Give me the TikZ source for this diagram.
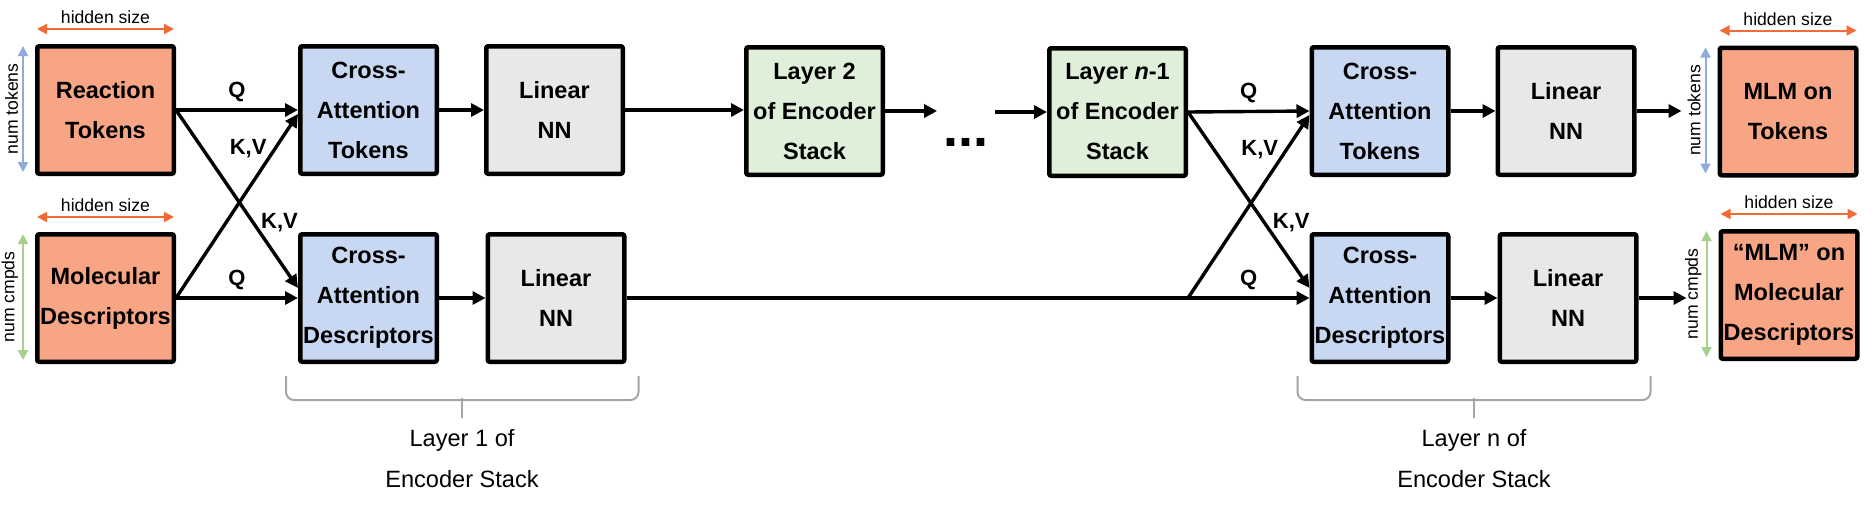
\documentclass[tikz,border=0pt]{standalone}
\usepackage{fontspec}
\setmainfont{Liberation Sans}
\usetikzlibrary{arrows.meta}
\definecolor{salmon}{HTML}{F8A586}
\definecolor{crossblue}{HTML}{C9D8F2}
\definecolor{lingray}{HTML}{E8E8E8}
\definecolor{layergreen}{HTML}{E0EFDA}
\definecolor{hidorange}{HTML}{F26A36}
\definecolor{tokblue}{HTML}{8FAADC}
\definecolor{cmpdgreen}{HTML}{A8D08D}
\definecolor{bracketgray}{HTML}{A5A5A5}
\tikzstyle{block}=[draw, line width=2.25pt, rounded corners=1pt, minimum width=68.25pt, minimum height=63.75pt, inner sep=0pt, align=center, font=\fontsize{11.75}{20}\selectfont\bfseries]
\tikzstyle{inout}=[block, fill=salmon]
\tikzstyle{cross}=[block, fill=crossblue]
\tikzstyle{linear}=[block, fill=lingray]
\tikzstyle{layer}=[block, fill=layergreen]
\tikzstyle{flow}=[line width=1.7pt, -{Triangle[length=6.5pt,width=6.5pt]}]
\tikzstyle{qkv}=[font=\fontsize{11}{13}\selectfont\bfseries]
\tikzstyle{dimarrow}=[line width=1pt, {Triangle[length=5pt,width=5pt]}-{Triangle[length=5pt,width=5pt]}]
\tikzstyle{dimlabel}=[font=\fontsize{8.8}{10}\selectfont, inner sep=2pt]
\tikzstyle{bracket}=[draw=bracketgray, line width=1pt, rounded corners=4pt]
\tikzstyle{stack}=[align=center, inner sep=0pt, font=\fontsize{11.8}{20.5}\selectfont]

\begin{document}
\begin{tikzpicture}[x=0.5pt, y=-0.5pt]
                    \useasboundingbox (0,0) rectangle (1875,505);
                    % inputs
                    \node[inout] (rt) at (105.5,110) {Reaction\\Tokens};
                    \node[inout] (md) at (105.5,298) {Molecular\\Descriptors};
                    % layer 1
                    \node[cross] (cat1) at (368.5,110) {Cross-\\Attention\\Tokens};
                    \node[cross] (cad1) at (368.5,298) {Cross-\\Attention\\Descriptors};
                    \node[linear] (lint1) at (554.5,110) {Linear\\NN};
                    \node[linear] (lind1) at (556,298) {Linear\\NN};
                    % middle layers
                    \node[layer] (l2) at (814.5,111) {Layer 2\\of Encoder\\Stack};
                    \node[font=\fontsize{27}{30}\selectfont\bfseries, inner sep=3pt] (dots) at (966,142) {...};
                    \node[layer] (ln1) at (1117.5,112) {Layer \textit{n}-1\\of Encoder\\Stack};
                    % layer n
                    \node[cross] (cat2) at (1380,111) {Cross-\\Attention\\Tokens};
                    \node[cross] (cad2) at (1380,298) {Cross-\\Attention\\Descriptors};
                    \node[linear] (lint2) at (1566,111) {Linear\\NN};
                    \node[linear] (lind2) at (1568,298) {Linear\\NN};
                    % outputs
                    \node[inout] (mlmt) at (1788,111.5) {MLM on\\Tokens};
                    \node[inout] (mlmd) at (1789,295) {“MLM” on\\Molecular\\Descriptors};

                    \draw[flow] (rt.east) -- node[qkv, above] {Q} (cat1.west);
                    \draw[flow] (md.east) -- node[qkv, pos=0.81, left] {K,V} ([yshift=-2pt]cat1.west);
                    \draw[flow] (rt.east) -- node[qkv, pos=0.63, right] {K,V} ([yshift=5pt]cad1.west);
                    \draw[flow] (md.east) -- node[qkv, above] {Q} (cad1.west);
                    \draw[flow] (cat1) -- (lint1);
                    \draw[flow] (cad1) -- (lind1);
                    \draw[flow] (lint1.east) -- (lint1.east -| l2.west);
                    \draw[flow] (l2.east) -- (l2.east -| dots.west);
                    \draw[flow] (dots.east |- ln1.west) -- (ln1.west);
                    \draw[line width=1.7pt] (lind1.east) -- (lind1.east -| ln1.east) coordinate (split);
                    \draw[flow] (ln1.east) -- node[qkv, above] {Q} (cat2.west);
                    \draw[flow] (split) -- node[qkv, pos=0.81, left] {K,V} ([yshift=-2pt]cat2.west);
                    \draw[flow] (ln1.east) -- node[qkv, pos=0.63, right] {K,V} ([yshift=5pt]cad2.west);
                    \draw[flow] (split) -- node[qkv, above] {Q} (cad2.west);
                    \draw[flow] (cat2) -- (lint2);
                    \draw[flow] (cad2) -- (lind2);
                    \draw[flow] (lint2.east) -- ([xshift=-18pt]mlmt.west |- lint2.east);
                    \draw[flow] (lind2.east) -- ([xshift=-16pt]mlmd.west |- lind2.east);

                    % sizes
                    \foreach \b/\c/\t in {rt/tokblue/num tokens, md/cmpdgreen/num cmpds, mlmt/tokblue/num tokens, mlmd/cmpdgreen/num cmpds} {
                        \draw[dimarrow, hidorange] ([xshift=1pt,yshift=7.5pt]\b.north west) -- node[dimlabel, black, above] {hidden size} ([xshift=-1pt,yshift=7.5pt]\b.north east);
                        \draw[dimarrow, \c] ([xshift=-6pt,yshift=-1pt]\b.north west) -- node[dimlabel, black, rotate=90, anchor=south] {\t} ([xshift=-6pt,yshift=2pt]\b.south west);
                    }

                    % encoder layers
                    \draw[bracket] ([xshift=-6pt,yshift=-6pt]cad1.south west) |- ([xshift=6pt,yshift=-18pt]lind1.south east) -- ([xshift=6pt,yshift=-6pt]lind1.south east);
                    \draw[bracket] (462,398) -- (462,418);
                    \node[stack] (stack1) at (462,459) {Layer 1 of\\Encoder Stack};
                    \draw[bracket] ([xshift=-6pt,yshift=-6pt]cad2.south west) |- ([xshift=6pt,yshift=-18pt]lind2.south east) -- ([xshift=6pt,yshift=-6pt]lind2.south east);
                    \draw[bracket] (1474,398) -- (1474,418);
                    \node[stack] (stackn) at (1474,459) {Layer n of\\Encoder Stack};
                \end{tikzpicture}
\end{document}
